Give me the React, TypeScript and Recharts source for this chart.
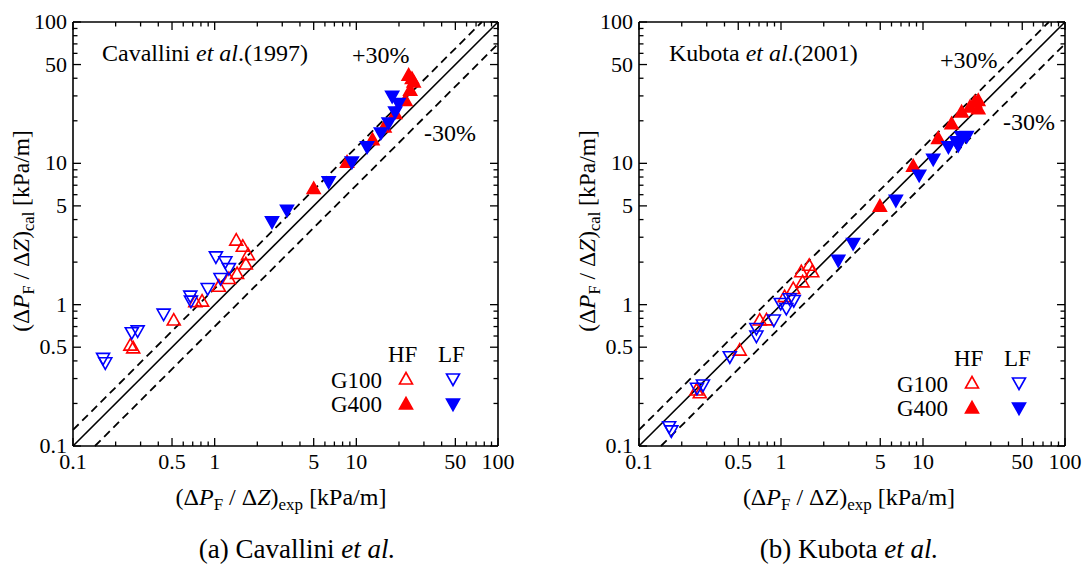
import React from "react";
import { ScatterChart, Scatter, XAxis, YAxis, ReferenceLine } from "recharts";

// log axis ticks (0.1 .. 100) and the ones that get a label
const TICKS = [
  0.1, 0.2, 0.3, 0.4, 0.5, 0.6, 0.7, 0.8, 0.9, 1, 2, 3, 4, 5, 6, 7, 8, 9, 10, 20, 30, 40, 50, 60, 70, 80,
  90, 100,
];
const LABELED = [0.1, 0.5, 1, 5, 10, 50, 100];

// Cavallini et al. (1997): [exp, cal]
const cavG100HF = [
  [0.254, 0.517], [0.266, 0.495], [0.514, 0.778], [0.73, 1.05], [0.815, 1.06], [1.07, 1.35],
  [1.26, 1.53], [1.44, 1.66], [1.42, 2.86], [1.58, 2.59], [1.72, 2.26], [1.66, 1.94],
];
const cavG100LF = [
  [0.163, 0.417], [0.169, 0.388], [0.26, 0.633], [0.286, 0.653], [0.436, 0.857], [0.673, 1.15],
  [0.68, 1.06], [0.893, 1.3], [1.1, 1.53], [1.02, 2.18], [1.19, 2.01], [1.26, 1.8],
];
const cavG400HF = [
  [5.0, 6.63], [8.6, 10.2], [13.0, 14.7], [15.8, 18.1], [18.8, 22.5], [22.2, 27.9], [24.0, 32.9],
  [23.4, 42.0], [24.7, 39.8], [25.4, 37.6],
];
const cavG400LF = [
  [2.54, 3.85], [3.24, 4.66], [6.38, 7.39], [9.3, 10.2], [11.9, 13.1], [14.9, 16.4], [16.9, 19.3],
  [18.8, 23.1], [17.9, 29.8], [19.9, 26.5],
];

// Kubota et al. (2001): [exp, cal]
const kubG100HF = [
  [0.254, 0.249], [0.268, 0.238], [0.512, 0.477], [0.708, 0.778], [0.79, 0.78], [1.06, 1.14],
  [1.22, 1.3], [1.42, 1.45], [1.39, 1.71], [1.58, 1.9], [1.66, 1.71],
];
const kubG100LF = [
  [0.163, 0.137], [0.169, 0.128], [0.256, 0.256], [0.282, 0.27], [0.436, 0.428], [0.671, 0.679],
  [0.671, 0.6], [0.89, 0.778], [0.995, 1.02], [1.09, 0.94], [1.15, 1.1], [1.23, 1.07],
];
const kubG400HF = [
  [4.97, 4.97], [8.53, 9.55], [12.8, 15.0], [15.9, 19.1], [18.7, 23.1], [21.4, 25.1], [23.2, 27.2],
  [24.5, 27.9], [24.5, 24.4],
];
const kubG400LF = [
  [2.53, 2.06], [3.22, 2.71], [6.44, 5.48], [9.4, 8.24], [11.8, 10.7], [15.1, 13.1], [17.2, 14.2],
  [17.7, 13.4], [18.7, 15.4], [20.3, 15.5],
];

const RED = "#ff0000";
const BLUE = "#0000ff";
const FONT =
  "'Liberation Serif', 'Times New Roman', Times, Tinos, 'Nimbus Roman', 'DejaVu Serif', 'Noto Serif', FreeSerif, serif";
const serif = { fontFamily: FONT };

const toPts = (arr: number[][]) => arr.map(([x, y]) => ({ x, y }));

const isMajor = (v: number) => LABELED.some((l) => Math.abs(l - v) < 1e-9);

function makeTick(orient: "bottom" | "top" | "left" | "right") {
  return (props: any) => {
    const { x, y, payload } = props;
    const v = payload.value;
    const major = isMajor(v);
    const len = major ? 8 : 4.5;
    let line;
    let label = null;
    if (orient === "bottom") {
      line = <line x1={x} y1={y} x2={x} y2={y - len} stroke="#000" strokeWidth={1.3} />;
      if (major)
        label = (
          <text x={x} y={y + 23} textAnchor="middle" fontSize={22} style={serif} fill="#000">
            {String(v)}
          </text>
        );
    } else if (orient === "top") {
      line = <line x1={x} y1={y} x2={x} y2={y + len} stroke="#000" strokeWidth={1.3} />;
    } else if (orient === "left") {
      line = <line x1={x} y1={y} x2={x + len} y2={y} stroke="#000" strokeWidth={1.3} />;
      if (major)
        label = (
          <text x={x - 6} y={y + 7} textAnchor="end" fontSize={22} style={serif} fill="#000">
            {String(v)}
          </text>
        );
    } else {
      line = <line x1={x} y1={y} x2={x - len} y2={y} stroke="#000" strokeWidth={1.3} />;
    }
    return (
      <g>
        {line}
        {label}
      </g>
    );
  };
}

const TriUp = (fill: boolean, color: string) => (props: any) => {
  const { cx, cy } = props;
  const pts = `${cx},${cy - 6.5} ${cx - 6.5},${cy + 5} ${cx + 6.5},${cy + 5}`;
  return <polygon points={pts} fill={fill ? color : "none"} stroke={color} strokeWidth={1.6} />;
};
const TriDown = (fill: boolean, color: string) => (props: any) => {
  const { cx, cy } = props;
  const pts = `${cx - 6.5},${cy - 5} ${cx + 6.5},${cy - 5} ${cx},${cy + 6.5}`;
  return <polygon points={pts} fill={fill ? color : "none"} stroke={color} strokeWidth={1.6} />;
};

interface PanelProps {
  left: number;
  width: number;
  marginLeft: number;
  marginRight: number;
  g100hf: number[][];
  g100lf: number[][];
  g400hf: number[][];
  g400lf: number[][];
}

function Panel({ left, width, marginLeft, marginRight, g100hf, g100lf, g400hf, g400lf }: PanelProps) {
  const axisProps = {
    type: "number" as const,
    scale: "log" as const,
    domain: [0.1, 100],
    allowDataOverflow: true,
    ticks: TICKS,
    interval: 0 as const,
    tickSize: 0,
    tickMargin: 0,
    tickLine: false,
    axisLine: { stroke: "#000", strokeWidth: 1.6 },
  };
  return (
    <div style={{ position: "absolute", left, top: 0 }}>
      <ScatterChart
        width={width}
        height={567}
        margin={{ top: 12, right: marginRight, bottom: 91, left: marginLeft }}
      >
        <XAxis {...axisProps} dataKey="x" xAxisId="b" orientation="bottom" height={30} tick={makeTick("bottom")} />
        <XAxis {...axisProps} dataKey="x" xAxisId="t" orientation="top" height={10} tick={makeTick("top")} />
        <YAxis {...axisProps} dataKey="y" yAxisId="l" orientation="left" width={50} tick={makeTick("left")} />
        <YAxis {...axisProps} dataKey="y" yAxisId="r" orientation="right" width={10} tick={makeTick("right")} />
        <ReferenceLine
          xAxisId="b"
          yAxisId="l"
          segment={[{ x: 0.1, y: 0.13 }, { x: 100 / 1.3, y: 100 }]}
          stroke="#000"
          strokeWidth={1.8}
          strokeDasharray="8 5"
        />
        <ReferenceLine
          xAxisId="b"
          yAxisId="l"
          segment={[{ x: 0.1, y: 0.1 }, { x: 100, y: 100 }]}
          stroke="#000"
          strokeWidth={1.6}
        />
        <ReferenceLine
          xAxisId="b"
          yAxisId="l"
          segment={[{ x: 0.1 / 0.7, y: 0.1 }, { x: 100, y: 70 }]}
          stroke="#000"
          strokeWidth={1.8}
          strokeDasharray="8 5"
        />
        <Scatter xAxisId="b" yAxisId="l" data={toPts(g100hf)} shape={TriUp(false, RED)} isAnimationActive={false} />
        <Scatter xAxisId="b" yAxisId="l" data={toPts(g100lf)} shape={TriDown(false, BLUE)} isAnimationActive={false} />
        <Scatter xAxisId="b" yAxisId="l" data={toPts(g400hf)} shape={TriUp(true, RED)} isAnimationActive={false} />
        <Scatter xAxisId="b" yAxisId="l" data={toPts(g400lf)} shape={TriDown(true, BLUE)} isAnimationActive={false} />
      </ScatterChart>
    </div>
  );
}

function XTitle({ cx, y, zItalic }: { cx: number; y: number; zItalic: boolean }) {
  return (
    <text x={cx} y={y} textAnchor="middle" fontSize={24} style={serif} fill="#000">
      (Δ<tspan fontStyle="italic">P</tspan>
      <tspan fontSize={17} dy={5}>F</tspan>
      <tspan dy={-5}> / Δ</tspan>
      <tspan fontStyle={zItalic ? "italic" : "normal"}>Z</tspan>)<tspan fontSize={17} dy={5}>exp</tspan>
      <tspan dy={-5}> [kPa/m]</tspan>
    </text>
  );
}

function YTitle({ x, cy }: { x: number; cy: number }) {
  return (
    <text
      x={x}
      y={cy}
      textAnchor="middle"
      fontSize={23.5}
      style={serif}
      fill="#000"
      transform={`rotate(-90, ${x}, ${cy})`}
    >
      (Δ<tspan fontStyle="italic">P</tspan>
      <tspan fontSize={16.5} dy={5}>F</tspan>
      <tspan dy={-5}> / Δ</tspan>
      <tspan fontStyle="italic">Z</tspan>)<tspan fontSize={16.5} dy={5}>cal</tspan>
      <tspan dy={-5}> [kPa/m]</tspan>
    </text>
  );
}

function LegendBox({ x, y }: { x: number; y: number }) {
  // x,y = position of the open red marker
  const up = (cx: number, cy: number, fill: boolean, c: string) => (
    <polygon
      points={`${cx},${cy - 6.5} ${cx - 6.5},${cy + 5} ${cx + 6.5},${cy + 5}`}
      fill={fill ? c : "none"}
      stroke={c}
      strokeWidth={1.6}
    />
  );
  const down = (cx: number, cy: number, fill: boolean, c: string) => (
    <polygon
      points={`${cx - 6.5},${cy - 5} ${cx + 6.5},${cy - 5} ${cx},${cy + 6.5}`}
      fill={fill ? c : "none"}
      stroke={c}
      strokeWidth={1.6}
    />
  );
  return (
    <g style={serif} fontSize={23} fill="#000">
      <text x={x - 18} y={y - 17}>HF</text>
      <text x={x + 32} y={y - 17}>LF</text>
      <text x={x - 24} y={y + 9} textAnchor="end">G100</text>
      <text x={x - 24} y={y + 33} textAnchor="end">G400</text>
      {up(x, y, false, RED)}
      {down(x + 47, y, false, BLUE)}
      {up(x, y + 25, true, RED)}
      {down(x + 47, y + 25, true, BLUE)}
    </g>
  );
}

export default function App() {
  return (
    <div style={{ position: "absolute", left: 0, top: 0, width: 1086, height: 567, background: "#fff" }}>
      <Panel
        left={0}
        width={540}
        marginLeft={23}
        marginRight={32}
        g100hf={cavG100HF}
        g100lf={cavG100LF}
        g400hf={cavG400HF}
        g400lf={cavG400LF}
      />
      <Panel
        left={566}
        width={520}
        marginLeft={23}
        marginRight={11}
        g100hf={kubG100HF}
        g100lf={kubG100LF}
        g400hf={kubG400HF}
        g400lf={kubG400LF}
      />
      <svg
        width={1086}
        height={567}
        style={{ position: "absolute", left: 0, top: 0, pointerEvents: "none" }}
      >
        <g style={serif} fill="#000">
          <text x={102} y={61} fontSize={24}>
            Cavallini <tspan fontStyle="italic">et al</tspan>.(1997)
          </text>
          <text x={352} y={63} fontSize={24}>+30%</text>
          <text x={424} y={141} fontSize={24}>-30%</text>
          <text x={669} y={61} fontSize={24}>
            Kubota <tspan fontStyle="italic">et al</tspan>.(2001)
          </text>
          <text x={940} y={68} fontSize={24}>+30%</text>
          <text x={1003} y={130} fontSize={24}>-30%</text>
          <text x={297} y={558} fontSize={27} textAnchor="middle">
            (a) Cavallini <tspan fontStyle="italic">et al.</tspan>
          </text>
          <text x={849} y={558} fontSize={27} textAnchor="middle">
            (b) Kubota <tspan fontStyle="italic">et al.</tspan>
          </text>
        </g>
        <XTitle cx={281} y={505} zItalic={true} />
        <XTitle cx={849} y={505} zItalic={false} />
        <YTitle x={29} cy={231} />
        <YTitle x={595} cy={231} />
        <LegendBox x={406} y={379} />
        <LegendBox x={972} y={383} />
      </svg>
    </div>
  );
}
